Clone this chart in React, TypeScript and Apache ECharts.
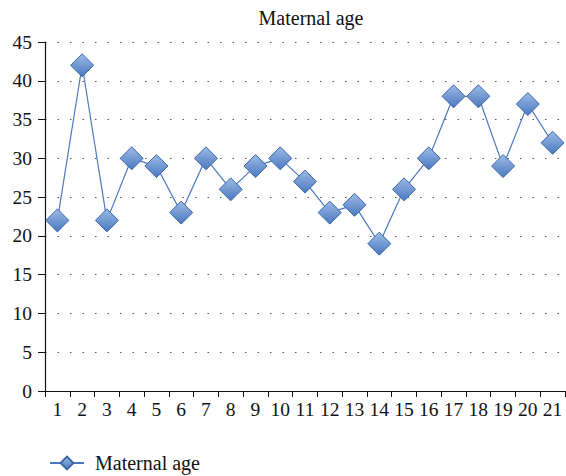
import React, { useEffect, useRef } from "react";
import * as echarts from "echarts";

const categories = ["1","2","3","4","5","6","7","8","9","10","11","12","13","14","15","16","17","18","19","20","21"];
const maternalAge = [22, 42, 22, 30, 29, 23, 30, 26, 29, 30, 27, 23, 24, 19, 26, 30, 38, 38, 29, 37, 32];
const seriesName = "Maternal age";
const titleText = "Maternal age";

const FONT = "'Liberation Serif', 'DejaVu Serif', serif";

export default function App() {
  const ref = useRef<HTMLDivElement>(null);
  useEffect(() => {
    if (!ref.current) return;
    const chart = echarts.init(ref.current, undefined, { renderer: "svg" });
    const symbolFill = new echarts.graphic.LinearGradient(0, 0, 0, 1, [
      { offset: 0, color: "#9dbbe6" },
      { offset: 1, color: "#4a78bf" },
    ]);
    chart.setOption({
      animation: false,
      backgroundColor: "#ffffff",
      title: {
        text: titleText,
        left: 306,
        textAlign: "center",
        top: 3,
        textStyle: { fontFamily: FONT, fontSize: 20, fontWeight: "normal", color: "#111" },
      },
      legend: {
        left: 44,
        top: 448,
        itemWidth: 34,
        itemHeight: 16,
        data: [seriesName],
        textStyle: { fontFamily: FONT, fontSize: 20, color: "#111", padding: [0, 0, 0, 6] },
      },
      grid: { left: 45, right: 1, top: 42, bottom: 85, containLabel: false },
      xAxis: {
        type: "category",
        data: categories,
        boundaryGap: true,
        axisLine: { lineStyle: { color: "#111", width: 1.2 } },
        axisTick: { show: true, length: 6, alignWithLabel: false, lineStyle: { color: "#111" } },
        axisLabel: { fontFamily: FONT, fontSize: 19.5, color: "#111", margin: 8, interval: 0 },
        splitLine: { show: false },
      },
      yAxis: {
        type: "value",
        min: 0,
        max: 45,
        interval: 5,
        axisLine: { show: true, lineStyle: { color: "#111", width: 1.2 } },
        axisTick: { show: true, length: 7, lineStyle: { color: "#111" } },
        axisLabel: { fontFamily: FONT, fontSize: 19.5, color: "#111", margin: 13 },
        splitLine: { show: true, lineStyle: { color: "#555", width: 1.2, type: [1.5, 11] } },
      },
      series: [
        {
          name: seriesName,
          type: "line",
          data: maternalAge,
          symbol: "diamond",
          symbolSize: 23,
          lineStyle: { color: "#4a78bf", width: 1.2 },
          itemStyle: { color: symbolFill, borderColor: "#3d66a8", borderWidth: 1 },
          emphasis: { disabled: true },
        },
      ],
    });
    return () => chart.dispose();
  }, []);
  return (
    <div
      ref={ref}
      style={{ position: "fixed", left: 0, top: 0, width: 566, height: 476 }}
    />
  );
}
